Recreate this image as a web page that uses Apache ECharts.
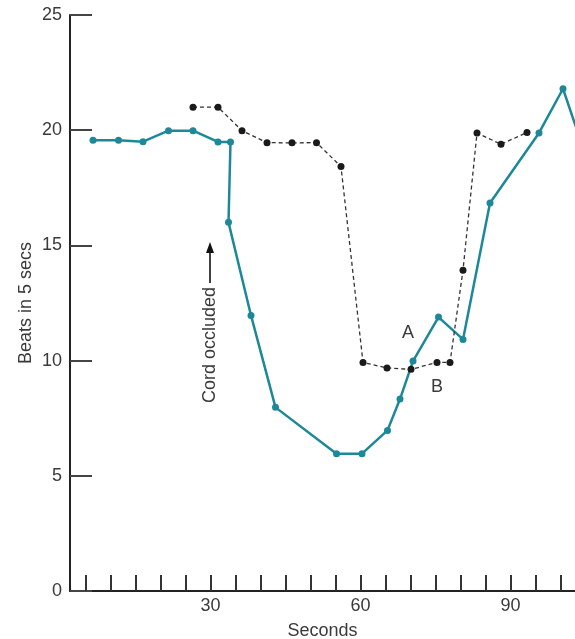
<!DOCTYPE html>
<html>
<head>
<meta charset="utf-8">
<script src="https://cdn.jsdelivr.net/npm/echarts@6/dist/echarts.min.js"></script>
<style>
html,body{margin:0;padding:0;background:#fff;}
#chart{width:575px;height:639px;}
</style>
</head>
<body>
<div id="chart"></div>
<script>
// Curve A (teal, solid)
const seriesA_x = [6.5, 11.6, 16.5, 21.6, 26.5, 31.5, 34.0, 33.6, 38.1, 43.0, 55.2, 60.3, 65.4, 67.9, 70.5, 75.6, 80.5, 85.9, 95.7, 100.5, 105.5];
const seriesA_y = [19.56, 19.56, 19.5, 19.98, 19.98, 19.49, 19.49, 16.0, 11.96, 7.97, 5.96, 5.96, 6.97, 8.33, 9.98, 11.89, 10.92, 16.84, 19.88, 21.8, 18.6];
// Curve B (black, dashed)
const seriesB_x = [26.5, 31.5, 36.3, 41.3, 46.3, 51.2, 56.1, 60.5, 65.3, 70.1, 75.3, 77.9, 80.5, 83.3, 88.1, 93.3];
const seriesB_y = [21.0, 21.0, 19.98, 19.46, 19.45, 19.46, 18.42, 9.92, 9.68, 9.62, 9.92, 9.92, 13.92, 19.88, 19.39, 19.9];
// Axis ticks
const xTickValues = [5,10,15,20,25,30,35,40,45,50,55,60,65,70,75,80,85,90,95,100];
const xLabelValues = [30, 60, 90];

const FONT = "'Liberation Sans', Arial, sans-serif";
const TXT = '#3a3a3a';
const TEAL = '#1c8898';
const FS = 18;

const chart = echarts.init(document.getElementById('chart'));
chart.setOption({
  animation: false,
  backgroundColor: '#fff',
  grid: {left: 70, right: 0, top: 15, bottom: 48, containLabel: false, outerBoundsMode: 'none'},
  xAxis: {
    type: 'value', min: 1.9, max: 102.9,
    name: 'Seconds', nameLocation: 'middle', nameGap: 31, nameMoveOverlap: false,
    nameTextStyle: {fontSize: FS, color: TXT, fontFamily: FONT},
    axisLine: {onZero: false, lineStyle: {color: '#222', width: 2}},
    axisTick: {show: true, inside: true, length: 16, customValues: xTickValues, lineStyle: {color: '#333', width: 2}},
    axisLabel: {customValues: xLabelValues, fontSize: FS, color: TXT, fontFamily: FONT, margin: 6},
    splitLine: {show: false}
  },
  yAxis: {
    type: 'value', min: 0, max: 25, interval: 5,
    name: 'Beats in 5 secs', nameLocation: 'middle', nameGap: 35, nameRotate: 90, nameMoveOverlap: false,
    nameTextStyle: {fontSize: FS, color: TXT, fontFamily: FONT},
    axisLine: {show: true, lineStyle: {color: '#222', width: 2}},
    axisTick: {show: true, inside: true, length: 22, lineStyle: {color: '#444', width: 2}},
    axisLabel: {fontSize: FS, color: TXT, fontFamily: FONT, margin: 8},
    splitLine: {show: false}
  },
  series: [
    {
      type: 'line', name: 'A',
      data: seriesA_x.map((x, i) => [x, seriesA_y[i]]),
      symbol: 'circle', symbolSize: 7,
      itemStyle: {color: TEAL},
      lineStyle: {color: TEAL, width: 2.5},
      clip: true, z: 2
    },
    {
      type: 'line', name: 'B',
      data: seriesB_x.map((x, i) => [x, seriesB_y[i]]),
      symbol: 'circle', symbolSize: 7,
      itemStyle: {color: '#1a1a1a'},
      lineStyle: {color: '#333', width: 1.3, type: [4, 3]},
      clip: true, z: 3
    }
  ],
  graphic: [
    {type: 'text', x: 210, y: 345, rotation: Math.PI / 2,
     style: {text: 'Cord occluded', fontSize: FS, fontFamily: FONT, fill: TXT, align: 'center', verticalAlign: 'middle'}},
    {type: 'line', shape: {x1: 210, y1: 283, x2: 210, y2: 250}, style: {stroke: '#111', lineWidth: 1.6}},
    {type: 'polygon', shape: {points: [[210, 242], [206, 253], [214, 253]]}, style: {fill: '#111'}},
    {type: 'text', x: 408, y: 333, style: {text: 'A', fontSize: FS, fontFamily: FONT, fill: TXT, align: 'center', verticalAlign: 'middle'}},
    {type: 'text', x: 437, y: 387, style: {text: 'B', fontSize: FS, fontFamily: FONT, fill: TXT, align: 'center', verticalAlign: 'middle'}}
  ]
});
</script>
</body>
</html>
